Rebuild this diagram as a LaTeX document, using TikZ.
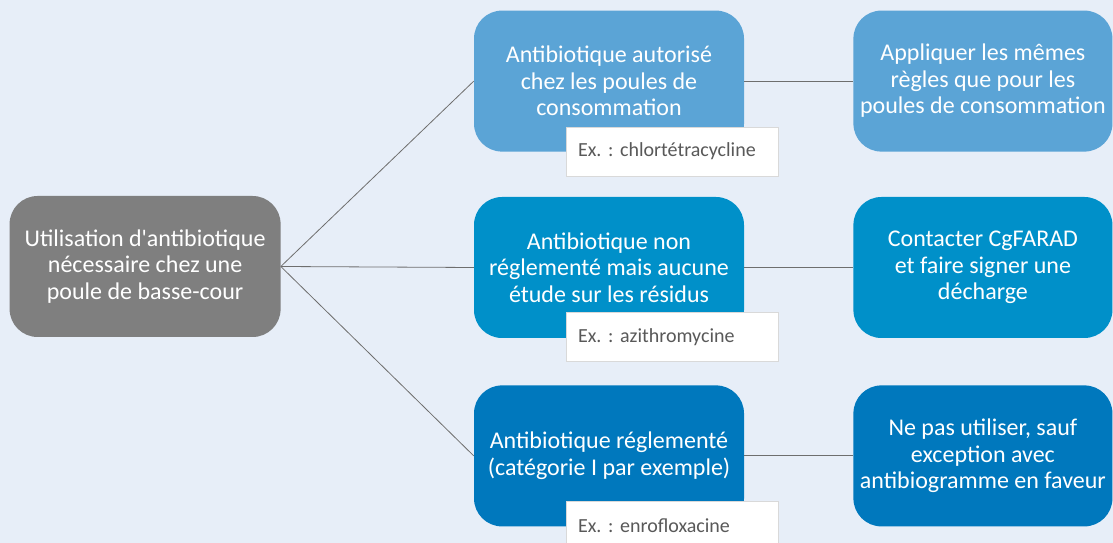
\documentclass[tikz,border=0pt]{standalone}
\usepackage{fontspec}
\setmainfont{Carlito}
\usepackage{tikz}
\usetikzlibrary{positioning,calc}
\definecolor{bgblue}{HTML}{E7EEF8}
\definecolor{rootgray}{HTML}{7F7F7F}
\definecolor{blueA}{HTML}{5BA4D6}
\definecolor{blueB}{HTML}{0090C9}
\definecolor{blueC}{HTML}{0078BD}
\definecolor{linkgray}{HTML}{6E6E6E}
\definecolor{extext}{HTML}{595959}
\frenchspacing
\tikzset{
  card/.style={rounded corners=28pt,align=center,text=white,inner sep=0pt,
    minimum width=270pt,minimum height=141pt,font=\fontsize{24}{26.5}\selectfont},
  rulecard/.style={card,minimum width=259pt},
  exbox/.style={draw=black!15,fill=white,anchor=north west,inner sep=0pt,
    minimum width=212pt,minimum height=49pt,text=extext,
    font=\fontsize{20}{22}\selectfont,align=left,text width=188pt},
  link/.style={draw=linkgray,line width=0.8pt}
}
\begin{document}
\begin{tikzpicture}[x=1pt,y=1pt]
\fill[bgblue] (0,0) rectangle (1113,543);
\useasboundingbox (0,0) rectangle (1113,543);

\node[card, fill=blueB] (anti2) at (609,275.5) {Antibiotique non\\réglementé mais aucune\\étude sur les résidus};
\node[card, fill=blueA, above=45pt of anti2] (anti1) {Antibiotique autorisé\\chez les poules de\\consommation};
\node[card, fill=blueC, below=47pt of anti2] (anti3) {Antibiotique réglementé\\(catégorie I par exemple)};
\node[card, fill=rootgray, minimum width=271pt, left=193pt of anti2, yshift=1pt] (root) {Utilisation d\textquotesingle antibiotique\\nécessaire chez une\\poule de basse-cour};

\node[rulecard, fill=blueA, right=109pt of anti1] (rule1) {Appliquer les mêmes\\règles que pour les\\poules de consommation};
\node[rulecard, fill=blueB, right=109pt of anti2] (rule2) {Contacter CgFARAD\\et faire signer une\\décharge};
\node[rulecard, fill=blueC, right=109pt of anti3] (rule3) {Ne pas utiliser, sauf\\exception avec\\antibiogramme en faveur};

% exemples
\node[exbox] (ex1) at ($(anti1.south west)+(92,25)$) {Ex. : chlortétracycline};
\node[exbox] (ex2) at ($(anti2.south west)+(92,26)$) {Ex. : azithromycine};
\node[exbox] (ex3) at ($(anti3.south west)+(92,26)$) {Ex. : enrofloxacine};

% liens
\foreach \n in {1,2,3}{
  \draw[link] (root.east) -- (anti\n.west);
  \draw[link] (anti\n.east) -- (rule\n.west);
}
\end{tikzpicture}
\end{document}
